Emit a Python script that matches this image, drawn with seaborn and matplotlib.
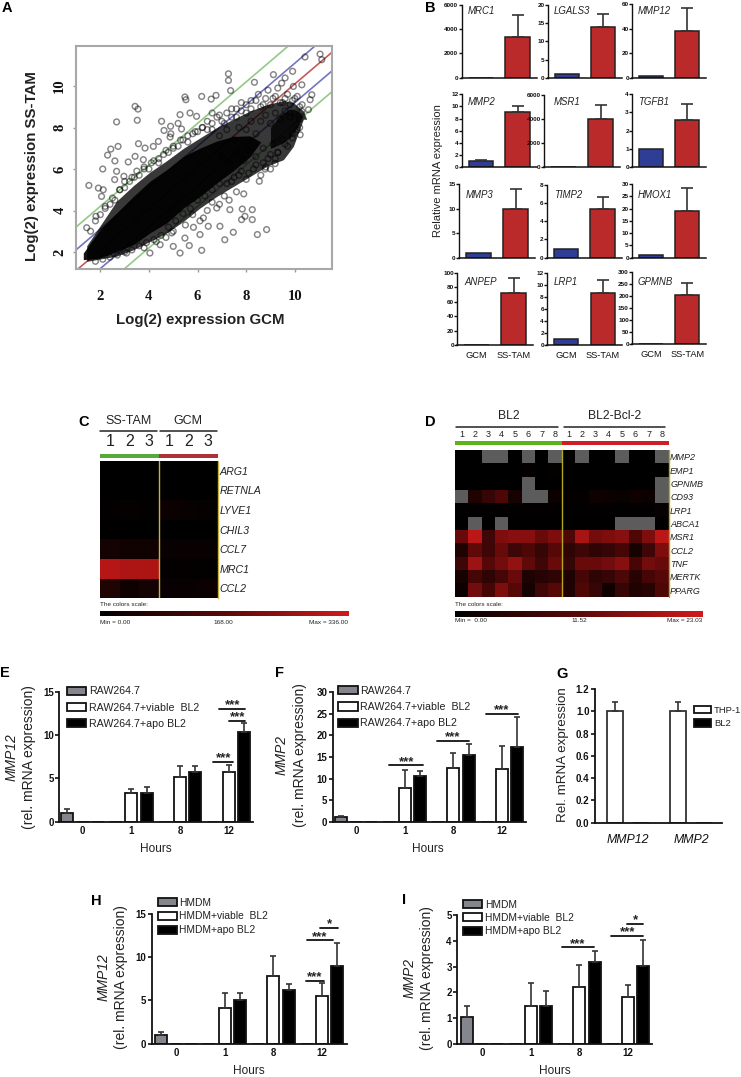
import numpy as np
import pandas as pd
import matplotlib
matplotlib.use('Agg')
import matplotlib.pyplot as plt
import seaborn as sns
from matplotlib.colors import LinearSegmentedColormap
from matplotlib.lines import Line2D
from matplotlib.patches import Patch, Rectangle

sns.set_theme(style='white')
plt.rcParams['font.family'] = ['Liberation Sans', 'DejaVu Sans']
plt.rcParams['text.color'] = '#222222'

W, H = 741, 1077

# panel A: sparse points, in log2 units
a_x = [1.53, 1.44, 2.67, 3.43, 3.55, 3.52, 2.43, 2.73, 2.30, 2.60, 2.10, 4.52, 5.48, 5.52, 6.17, 6.56, 6.76,
       7.27, 7.27, 7.36, 8.34, 9.12, 9.91, 10.42, 11.04, 11.11, 9.46, 9.60, 9.94, 10.29, 10.70, 10.63, 10.29,
       10.56, 10.22, 9.19, 8.78, 8.54, 8.84, 8.46, 7.47, 7.12, 8.25, 7.95, 7.81, 8.25, 7.84, 7.33, 6.79, 6.17,
       5.28, 5.00, 5.66, 5.48, 6.10, 6.24, 6.44, 6.92, 4.04, 3.08, 4.46, 4.94, 5.83,
       5.28, 5.69, 5.96, 4.89, 4.62, 5.34, 4.87, 4.39, 3.57, 3.84, 4.18, 3.43, 3.15, 3.77, 2.67, 2.97, 1.92, 2.12,
       2.05, 2.59, 1.82,
       6.9, 7.1, 7.4, 7.6, 7.8, 8.0, 8.2, 8.5, 8.7, 8.9, 9.1, 9.3, 9.5, 9.7, 9.9, 10.1, 10.3,
       6.6, 6.9, 7.2, 7.5, 7.7, 8.0, 8.2, 8.4, 8.6, 8.8, 9.0, 9.2, 9.4, 9.6, 9.8, 10.0, 10.2,
       7.0, 7.3, 7.6, 7.9, 8.1, 8.4, 8.7, 8.9, 9.1, 9.3, 9.5, 9.7, 9.9, 10.1,
       7.4, 7.7, 8.0, 8.3, 8.6, 8.8, 9.0, 9.2,
       5.5, 5.8, 6.1, 6.4, 6.6, 6.9, 7.1, 7.3, 7.6, 7.9, 5.0, 4.7, 4.3, 3.8,
       2.2, 2.5, 2.8, 3.0, 3.3, 3.5, 3.8, 4.1, 4.4, 4.7, 5.0, 5.3, 5.6, 5.9, 6.2, 6.4, 6.6, 4.9, 5.2,
       1.6, 1.8, 2.0, 2.2, 2.4, 2.6, 2.8, 3.0, 3.2, 3.4, 3.6, 3.8, 4.0, 4.2, 4.4, 4.6, 4.8, 5.0, 5.2, 5.4, 5.6,
       5.8, 6.0, 6.2, 6.4, 6.6, 6.8, 7.0, 7.2, 7.4, 7.6, 7.8, 8.0, 8.2, 8.4, 8.6, 8.8, 9.0, 9.2, 9.4, 9.6, 9.8,
       10.0, 10.2,
       1.8, 2.1, 2.4, 2.7, 3.0, 3.3, 3.6, 3.9, 4.2, 4.5, 4.8, 5.1, 5.4, 5.7, 6.0, 6.3, 6.6, 6.9, 7.2, 7.5, 7.8,
       8.1, 8.4, 8.7, 9.0, 9.3, 9.6, 9.9, 10.2]
a_y = [5.21, 3.17, 8.27, 9.02, 8.89, 8.35, 6.96, 7.09, 6.67, 6.39, 6.00, 8.30, 9.47, 9.34, 9.50, 9.37, 9.55,
       10.59, 10.27, 9.78, 10.18, 10.55, 10.71, 11.40, 11.54, 11.27, 10.14, 10.39, 9.98, 10.06, 9.58, 9.34, 8.78,
       8.86, 7.65, 6.26, 6.00, 5.41, 3.08, 2.84, 2.95, 2.59, 3.56, 3.72, 3.56, 4.04, 4.07, 4.04, 4.12, 2.08,
       1.95, 2.27, 2.31, 2.67, 2.84, 3.64, 3.24, 3.24, 1.95, 1.95, 2.35, 2.92, 3.19,
       8.62, 8.70, 8.54, 8.06, 7.86, 7.93, 7.54, 7.33, 7.22, 7.01, 7.09, 6.61, 6.34, 6.45, 5.89, 5.65, 5.08, 5.00,
       4.68, 5.49, 3.72,
       8.6, 8.2, 8.9, 8.5, 9.2, 8.7, 9.3, 9.6, 9.1, 9.8, 9.4, 9.9, 9.2, 9.6, 9.3, 9.5, 9.1,
       7.9, 7.6, 7.9, 7.4, 8.0, 7.9, 8.3, 7.7, 8.3, 8.6, 8.2, 8.7, 8.4, 8.8, 8.5, 8.7, 8.4,
       6.6, 6.3, 6.7, 6.4, 6.9, 6.6, 7.0, 6.5, 7.2, 6.8, 7.4, 7.1, 7.7, 7.9,
       5.4, 5.7, 5.5, 6.0, 5.7, 6.1, 6.0, 6.5,
       3.3, 3.8, 3.5, 4.0, 4.4, 4.3, 4.7, 4.5, 4.9, 4.8, 3.0, 2.7, 2.5, 2.2,
       4.2, 4.6, 5.0, 5.4, 5.6, 5.9, 6.1, 6.3, 6.5, 6.9, 7.1, 7.4, 7.6, 7.8, 8.0, 8.3, 8.7, 7.7, 8.2,
       3.0, 3.5, 3.8, 4.1, 4.3, 4.5, 5.0, 5.1, 5.4, 5.6, 5.7, 6.0, 6.0, 6.4, 6.3, 6.7, 6.8, 7.0, 7.1, 7.4, 7.3,
       7.7, 7.8, 8.0, 7.9, 8.2, 8.5, 8.3, 8.7, 8.5, 8.9, 8.8, 9.1, 8.9, 9.3, 9.0, 9.4, 9.1, 9.5, 9.2, 9.4, 9.1,
       9.4, 9.0,
       1.55, 1.65, 1.75, 1.85, 2.0, 2.1, 2.3, 2.45, 2.6, 2.8, 3.2, 3.5, 3.85, 4.1, 4.5, 4.7, 5.0, 5.3, 5.3, 5.6, 5.9,
       5.8, 6.2, 6.3, 6.7, 6.8, 7.2, 7.5, 8.0]

# dense part of the cloud, read as outlines
core_x = [1.30, 1.99, 2.67, 3.36, 4.04, 4.73, 5.42, 6.10, 6.79, 7.47, 8.16, 8.60]
core_hi = [1.95, 3.08, 3.88, 4.68, 5.41, 5.97, 6.61, 7.01, 7.35, 7.57, 7.60, 7.30]
core_lo = [1.63, 1.71, 2.03, 2.35, 2.92, 3.40, 4.12, 4.68, 5.33, 5.91, 6.60, 7.30]
halo_x = [1.44, 2.67, 3.36, 4.04, 4.73, 5.42, 6.10, 6.79, 7.47, 8.16, 8.84, 9.53, 9.94, 10.35, 10.49]
halo_hi = [2.30, 4.45, 5.20, 5.85, 6.40, 7.00, 7.50, 8.00, 8.40, 8.80, 9.10, 9.30, 9.20, 8.80, 8.40]
halo_lo = [1.55, 1.80, 2.11, 2.51, 2.92, 3.48, 4.12, 4.68, 5.16, 5.64, 6.13, 6.45, 7.09, 8.40, 8.40]
tip_x = [9.0, 9.4, 9.8, 10.1, 10.3]
tip_hi = [8.0, 8.6, 8.9, 8.8, 8.6]
tip_lo = [7.0, 7.2, 7.5, 8.0, 8.5]
a_offsets = [-1.8, -0.8, 0.1, 1.1, 2.2]
a_colors = ['#93c987', '#7474c4', '#c45a5a', '#7474c4', '#93c987']

# panel B
b_genes = ['MRC1', 'LGALS3', 'MMP12', 'MMP2', 'MSR1', 'TGFB1', 'MMP3', 'TIMP2', 'HMOX1', 'ANPEP', 'LRP1', 'GPMNB']
b_gcm = [1, 1, 1, 1, 1, 1, 1, 1, 1.1, 1, 1, 1]
b_tam = [3350, 14, 38, 9, 4000, 2.6, 9.9, 5.3, 19.2, 72, 8.7, 203]
b_tam_top = [5200, 17.6, 57, 10.1, 5150, 3.45, 14, 6.7, 28.3, 93, 10.8, 252]
b_ymax = [6000, 20, 60, 12, 6000, 4, 15, 8, 30, 100, 12, 300]
b_ticks = [[0, 2000, 4000, 6000], [0, 5, 10, 15, 20], [0, 20, 40, 60], [0, 2, 4, 6, 8, 10, 12],
           [0, 2000, 4000, 6000], [0, 1, 2, 3, 4], [0, 5, 10, 15], [0, 2, 4, 6, 8],
           [0, 5, 10, 15, 20, 25, 30], [0, 20, 40, 60, 80, 100], [0, 2, 4, 6, 8, 10, 12],
           [0, 50, 100, 150, 200, 250, 300]]
b_groups = ['GCM', 'SS-TAM']

# panel C
c_genes = ['ARG1', 'RETNLA', 'LYVE1', 'CHIL3', 'CCL7', 'MRC1', 'CCL2']
c_values = [[3, 3, 3, 3, 3, 3],
            [3, 3, 3, 3, 3, 3],
            [5, 12, 6, 22, 14, 12],
            [3, 3, 3, 3, 3, 3],
            [40, 32, 32, 15, 18, 14],
            [300, 285, 285, 8, 6, 6],
            [60, 30, 40, 18, 15, 20]]
c_samples = ['1', '2', '3', '1', '2', '3']

# panel D, nan cells are the grey ones
n = np.nan
d_genes = ['MMP2', 'EMP1', 'GPNMB', 'CD93', 'LRP1', 'ABCA1', 'MSR1', 'CCL2', 'TNF', 'MERTK', 'PPARG']
d_values = [[.2, .2, n, n, .2, n, .2, n, .2, n, .2, .2, n, .2, .2, n],
            [.2, .2, .2, .2, .2, .5, .2, .4, .2, .2, .2, .2, .2, .2, .2, .2],
            [.2, .2, .2, .2, .2, n, .2, .2, .2, .2, .2, .2, .2, .2, .2, n],
            [n, 4, 7, 10, 3, n, n, 1.5, .5, .6, 2, 1.5, 1, 2, 1.5, n],
            [.3, .3, .3, .3, .3, .3, .3, .3, .3, .3, .3, .3, .3, .3, .3, 1],
            [.2, n, .2, n, .2, .2, .2, .2, .2, .2, .2, .2, n, n, n, .2],
            [13, 21, 8, 15, 16, 16, 13, 15, 10, 19, 14, 15, 16, 10, 15, 21],
            [4, 12, 8, 13, 8, 10, 7, 11, 6, 8, 6, 7, 9, 3, 8, 15],
            [8, 18, 11, 14, 17, 12, 8, 13, 7, 13, 13, 14, 16, 9, 14, 13],
            [3, 9, 6, 9, 13, 4, 5, 6, 4, 9, 6, 7, 10, 5, 9, 11],
            [1.5, 14, 9, 15, 11, 3, 8, 11, 4, 10, 7, 2, 7, 4, 5, 10]]
d_samples = ['1', '2', '3', '4', '5', '6', '7', '8'] * 2

# panels E F H I: value and top of the error bar per hour
hours = ['0', '1', '8', '12']
e_ctrl, e_ctrl_top = [1.0, 0, 0, 0], [1.45, 0, 0, 0]
e_viable, e_viable_top = [0, 3.3, 5.2, 5.7], [0, 3.8, 6.4, 6.5]
e_apo, e_apo_top = [0, 3.35, 5.7, 10.4], [0, 4.0, 6.4, 11.4]
f_ctrl, f_ctrl_top = [1.0, 0, 0, 0], [1.4, 0, 0, 0]
f_viable, f_viable_top = [0, 7.7, 12.4, 12.3], [0, 12.1, 16.0, 17.6]
f_apo, f_apo_top = [0, 10.6, 15.5, 17.4], [0, 11.7, 17.9, 24.2]
h_ctrl, h_ctrl_top = [1.0, 0, 0, 0], [1.4, 0, 0, 0]
h_viable, h_viable_top = [0, 4.1, 7.8, 5.5], [0, 5.9, 10.2, 7.0]
h_apo, h_apo_top = [0, 5.1, 6.2, 9.0], [0, 5.9, 6.9, 11.6]
i_ctrl, i_ctrl_top = [1.03, 0, 0, 0], [1.47, 0, 0, 0]
i_viable, i_viable_top = [0, 1.47, 2.2, 1.8], [0, 2.35, 3.07, 2.3]
i_apo, i_apo_top = [0, 1.47, 3.2, 3.03], [0, 2.05, 3.6, 4.02]

# panel G
g_genes = ['MMP12', 'MMP2']
g_thp1, g_thp1_top = [1.0, 1.0], [1.085, 1.085]
g_bl2 = [0, 0]

fig = plt.figure(figsize=(W / 100, H / 100), dpi=100)
red_cmap = LinearSegmentedColormap.from_list('blackred', ['#000000', '#5a0808', '#d01a1a'])


def ax_px(l, t, r, b):
    return fig.add_axes([l / W, 1 - b / H, (r - l) / W, (b - t) / H])


def txt(x, y, s, **kw):
    kw.setdefault('ha', 'left')
    kw.setdefault('va', 'center')
    return fig.text(x / W, 1 - y / H, s, **kw)


def line_px(x0, x1, y, color='#222222', lw=1.1):
    fig.add_artist(Line2D([x0 / W, x1 / W], [1 - y / H, 1 - y / H], color=color, lw=lw, transform=fig.transFigure))


def rect_px(x0, x1, y0, y1, color):
    fig.add_artist(Rectangle((x0 / W, 1 - y1 / H), (x1 - x0) / W, (y1 - y0) / H, color=color, lw=0,
                             transform=fig.transFigure))


def stat(x0, x1, y, label='***', cx=None):
    line_px(x0, x1, y, color='#111111', lw=1.3)
    txt((x0 + x1) / 2 if cx is None else cx, y - 3.5, label, ha='center', fontsize=9.5, fontweight='bold')


def add_errors(ax, bars, tops, capsize):
    xs = [p.get_x() + p.get_width() / 2 for p in bars]
    hs = [p.get_height() for p in bars]
    up = [max(t - v, 0) for t, v in zip(tops, hs)]
    keep = [i for i, u in enumerate(up) if u > 0]
    ax.errorbar([xs[i] for i in keep], [hs[i] for i in keep], yerr=[[0] * len(keep), [up[i] for i in keep]],
                fmt='none', ecolor='#333333', elinewidth=1.2, capsize=capsize, capthick=1.2, zorder=1)


def style_axis(ax, size=7):
    sns.despine(ax=ax)
    ax.spines['left'].set_linewidth(1.3)
    ax.spines['bottom'].set_linewidth(1.3)
    ax.spines['left'].set_color('#111111')
    ax.spines['bottom'].set_color('#111111')
    ax.tick_params(axis='y', left=True, length=3, width=1.2, pad=1, labelsize=size, colors='#111111')
    ax.tick_params(axis='x', length=0, pad=3, labelsize=size, colors='#111111')
    for t in ax.get_xticklabels() + ax.get_yticklabels():
        t.set_fontweight('bold')
    ax.set_xlabel('')
    ax.set_ylabel('')


def time_panel(box, x0, ymax, yticks, values, tops, labels, legend_at, font=7.7):
    l, t, r, b = box
    ax = ax_px(l, t, r, b)
    df = pd.DataFrame({'hour': hours * 3,
                       'group': [labels[0]] * 4 + [labels[1]] * 4 + [labels[2]] * 4,
                       'value': values[0] + values[1] + values[2]})
    sns.barplot(data=df, x='hour', y='value', hue='group', hue_order=labels, order=hours,
                palette=['#85858d', '#ffffff', '#000000'], saturation=1, width=0.94, gap=0.22,
                edgecolor='#111111', linewidth=1.3, legend=False, ax=ax)
    for bars, top in zip(ax.containers, tops):
        add_errors(ax, bars, top, 2.5)
    step = 48.7
    ax.set_xlim((l - x0) / step, (r - x0) / step)
    ax.set_ylim(0, ymax)
    ax.set_yticks(yticks)
    style_axis(ax)
    handles = [Patch(facecolor=c, edgecolor='#111111', linewidth=1.3, label=s)
               for c, s in zip(['#85858d', '#ffffff', '#000000'], labels)]
    fig.legend(handles=handles, loc='upper left', bbox_to_anchor=(legend_at[0] / W, 1 - legend_at[1] / H),
               frameon=False, fontsize=font, handlelength=1.85, handleheight=0.8, handletextpad=0.25,
               labelspacing=legend_at[2], borderpad=0, borderaxespad=0)
    return ax


# A
ax = ax_px(76, 46, 332, 269)
for off, col in zip(a_offsets, a_colors):
    ax.axline((1, 1 + off), slope=1, color=col, lw=1.2, zorder=1)
ax.fill_between(halo_x, halo_lo, halo_hi, color='#000000', alpha=0.78, lw=0, zorder=2)
ax.fill_between(core_x, core_lo, core_hi, color='#000000', alpha=0.92, lw=0, zorder=3)
ax.fill_between(tip_x, tip_lo, tip_hi, color='#000000', alpha=0.8, lw=0, zorder=3)
sns.scatterplot(x=a_x, y=a_y, s=17, facecolor='none', edgecolor='#000000', linewidth=1.05, alpha=0.48, ax=ax, zorder=4)
ax.set_xlim(1.0, 11.53)
ax.set_ylim(1.18, 11.93)
ax.set_xticks([2, 4, 6, 8, 10])
ax.set_yticks([2, 4, 6, 8, 10])
ax.tick_params(axis='x', bottom=True, length=2, width=1, color='#999999', pad=13)
ax.tick_params(axis='y', left=True, length=2, width=1, color='#999999', pad=5)
for t in ax.get_xticklabels():
    t.set(family='Liberation Serif', fontweight='bold', fontsize=10.5, color='#111111')
for t in ax.get_yticklabels():
    t.set(family='Liberation Serif', fontweight='bold', fontsize=10.5, color='#111111', rotation=90, va='center')
for s in ax.spines.values():
    s.set_color('#a8a8a8')
    s.set_linewidth(1.5)
txt(200, 320, 'Log(2) expression GCM', ha='center', fontsize=10.8, fontweight='bold')
txt(32, 166, 'Log(2) expression SS-TAM', ha='center', rotation=90, fontsize=10.8, fontweight='bold')

# B
b_boxes = [(461.7, 5, 536.7, 77.7), (548, 5, 621.7, 77.7), (632.3, 4, 706, 77.7),
           (461.7, 94.3, 536.7, 167), (544, 94.7, 620, 167), (632.3, 94.3, 706, 167),
           (459, 184, 535, 257.7), (546.7, 184.7, 621.7, 257.7), (632.3, 184, 706, 257.7),
           (457.3, 272.7, 533, 345.3), (547.3, 272.7, 621.7, 345.3), (632.3, 271.7, 706, 344)]
b_labels = [(468, 11), (554, 11), (637.7, 11), (468, 101.7), (554, 101.7), (637.7, 101.7),
            (465.7, 195), (554, 195), (637.7, 195), (464.3, 281.7), (554, 281.7), (637.7, 281.7)]
for i, gene in enumerate(b_genes):
    ax = ax_px(*b_boxes[i])
    sns.barplot(x=b_groups, y=[b_gcm[i], b_tam[i]], hue=b_groups, palette=['#2f3d96', '#bb2a2a'], saturation=1,
                width=0.67, edgecolor='#222222', linewidth=1.1, legend=False, ax=ax)
    bars = [c[0] for c in ax.containers]
    add_errors(ax, bars, [b_gcm[i] * (1.2 if gene == 'MMP2' else 1), b_tam_top[i]], 4.5)
    ax.set_xlim(-0.52, 1.52)
    ax.set_ylim(0, b_ymax[i])
    ax.set_yticks(b_ticks[i])
    style_axis(ax, size=4.6)
    ax.tick_params(axis='y', length=2, width=1, pad=0.5)
    ax.spines['left'].set_linewidth(1)
    ax.spines['bottom'].set_linewidth(1.1)
    if i < 9:
        ax.set_xticks([])
    else:
        ax.tick_params(axis='x', labelsize=6.7, pad=4)
        for t in ax.get_xticklabels():
            t.set_fontweight('normal')
    txt(b_labels[i][0], b_labels[i][1], gene, fontsize=6.9, style='italic')
txt(438, 171, 'Relative mRNA expression', ha='center', rotation=90, fontsize=8)

# C
ax = ax_px(100, 461, 218, 598.3)
cax = ax_px(100, 611, 348.7, 616)
sns.heatmap(pd.DataFrame(c_values, index=c_genes), vmin=0, vmax=336, cmap=red_cmap, ax=ax, cbar_ax=cax,
            cbar_kws={'orientation': 'horizontal'}, xticklabels=c_samples, yticklabels=c_genes)
ax.xaxis.tick_top()
ax.yaxis.tick_right()
ax.tick_params(axis='x', length=0, pad=8.5, labelsize=11.5, rotation=0, colors='#222222')
ax.tick_params(axis='y', length=0, pad=1, labelsize=7.7, rotation=0, colors='#222222')
for t in ax.get_yticklabels():
    t.set_style('italic')
ax.axvline(3, color='#c8b43c', lw=1)
ax.axvline(6, color='#c8b43c', lw=1, clip_on=False)
cax.set_xticks([])
ax.collections[0].colorbar.outline.set_visible(False)
rect_px(100, 159.3, 454, 458, '#5aa83a')
rect_px(159.3, 218, 454, 458, '#b0303a')
line_px(100, 156.5, 430.7)
line_px(160, 216.7, 430.7)
txt(128.5, 421, 'SS-TAM', ha='center', fontsize=9)
txt(188, 421, 'GCM', ha='center', fontsize=9)
txt(100, 605, 'The colors scale:', fontsize=4.6)
txt(100, 622.7, 'Min = 0.00', fontsize=4.6)
txt(223, 622.7, '168.00', ha='center', fontsize=4.6)
txt(348, 622.7, 'Max = 336.00', ha='right', fontsize=4.6)

# D
ax = ax_px(455, 450, 668.7, 596.7)
cax = ax_px(455, 611, 702.7, 616.7)
sns.heatmap(pd.DataFrame(d_values, index=d_genes), vmin=0, vmax=23.03, cmap=red_cmap, ax=ax, cbar_ax=cax,
            cbar_kws={'orientation': 'horizontal'}, xticklabels=d_samples, yticklabels=d_genes)
ax.set_facecolor('#5c5c5c')
ax.xaxis.tick_top()
ax.yaxis.tick_right()
ax.tick_params(axis='x', length=0, pad=8, labelsize=6.5, rotation=0, colors='#222222')
ax.tick_params(axis='y', length=0, pad=1, labelsize=6.5, rotation=0, colors='#222222')
for t in ax.get_yticklabels():
    t.set_style('italic')
ax.axvline(8, color='#b4a820', lw=1)
ax.axvline(16, color='#b4a820', lw=1, clip_on=False)
cax.set_xticks([])
ax.collections[0].colorbar.outline.set_visible(False)
rect_px(455, 561.7, 440.7, 445.3, '#5cb31a')
rect_px(561.7, 668.7, 440.7, 445.3, '#cc1f26')
line_px(456, 557.7, 427.3)
line_px(564.3, 665, 427.3)
txt(509.3, 415.7, 'BL2', ha='center', fontsize=8.7)
txt(615, 415.7, 'BL2-Bcl-2', ha='center', fontsize=8.7)
txt(455, 605, 'The colors scale:', fontsize=4.6)
txt(455, 620.7, 'Min =  0.00', fontsize=4.6)
txt(579, 620.7, '11.52', ha='center', fontsize=4.6)
txt(702.7, 620.7, 'Max = 23.03', ha='right', fontsize=4.6)

# E
raw = ['RAW264.7', 'RAW264.7+viable  BL2', 'RAW264.7+apo BL2']
hm = ['HMDM', 'HMDM+viable  BL2', 'HMDM+apo BL2']
time_panel((59.3, 691.7, 253.3, 821.7), 82.7, 15, [0, 5, 10, 15], [e_ctrl, e_viable, e_apo],
           [e_ctrl_top, e_viable_top, e_apo_top], raw, (66.7, 686.5, 0.58))
stat(213.3, 233.3, 761.5)
stat(219.3, 245, 709, cx=232.7)
stat(229.3, 245, 721, cx=237.5)
txt(11.7, 756.7, 'MMP12', ha='center', rotation=90, fontsize=10, style='italic')
txt(29, 756.7, '(rel. mRNA expression)', ha='center', rotation=90, fontsize=10)
txt(155.7, 849, 'Hours', ha='center', fontsize=8.6)

# F
time_panel((332.7, 692.3, 526, 821.7), 356, 30, [0, 5, 10, 15, 20, 25, 30], [f_ctrl, f_viable, f_apo],
           [f_ctrl_top, f_viable_top, f_apo_top], raw, (338, 686, 0.58))
stat(389, 423.3, 765.3)
stat(436.7, 469, 740.7)
stat(485.7, 517.7, 713.7)
txt(281.7, 755, 'MMP2', ha='center', rotation=90, fontsize=10, style='italic')
txt(300, 755, '(rel. mRNA expression)', ha='center', rotation=90, fontsize=10)
txt(428.3, 849, 'Hours', ha='center', fontsize=8.6)

# G
ax = ax_px(595, 689, 721.7, 822.7)
df = pd.DataFrame({'gene': g_genes * 2, 'group': ['THP-1'] * 2 + ['BL2'] * 2, 'value': g_thp1 + g_bl2})
sns.barplot(data=df, x='gene', y='value', hue='group', palette=['#ffffff', '#000000'], saturation=1,
            width=0.82, gap=0.38, edgecolor='#333333', linewidth=1.3, legend=False, ax=ax)
add_errors(ax, ax.containers[0], g_thp1_top, 2.5)
ax.set_xlim(-0.517, 1.485)
ax.set_ylim(0, 1.2)
ax.set_yticks([0, 0.2, 0.4, 0.6, 0.8, 1.0, 1.2])
style_axis(ax)
ax.tick_params(axis='x', labelsize=8.9, pad=8)
for t in ax.get_xticklabels():
    t.set(fontweight='normal', style='italic')
fig.legend(handles=[Patch(facecolor='#ffffff', edgecolor='#111111', linewidth=1.3, label='THP-1'),
                    Patch(facecolor='#000000', edgecolor='#111111', linewidth=1.3, label='BL2')],
           loc='upper left', bbox_to_anchor=(694 / W, 1 - 705.5 / H), frameon=False, fontsize=6.8,
           handlelength=1.85, handleheight=0.85, handletextpad=0.25, labelspacing=0.5, borderpad=0, borderaxespad=0)
txt(563.3, 755, 'Rel. mRNA expression', ha='center', rotation=90, fontsize=9.6)

# H
time_panel((151.7, 914, 347.3, 1043.7), 176, 15, [0, 5, 10, 15], [h_ctrl, h_viable, h_apo],
           [h_ctrl_top, h_viable_top, h_apo_top], hm, (157.7, 897.5, 0.38), font=7.4)
stat(306, 324, 980.7)
stat(306.7, 332.7, 940.3)
stat(320, 338.3, 927.7, '*')
txt(103.3, 976.7, 'MMP12', ha='center', rotation=90, fontsize=10, style='italic')
txt(121, 976.7, '(rel. mRNA expression)', ha='center', rotation=90, fontsize=10)
txt(249.3, 1071, 'Hours', ha='center', fontsize=8.6)

# I
time_panel((457.3, 915.3, 651.7, 1043.7), 482, 5, [0, 1, 2, 3, 4, 5], [i_ctrl, i_viable, i_apo],
           [i_ctrl_top, i_viable_top, i_apo_top], hm, (463.3, 899.5, 0.34), font=7.4)
stat(561.7, 594.3, 947.3)
stat(611, 643.3, 936)
stat(626.7, 643.3, 923.7, '*')
txt(410, 978, 'MMP2', ha='center', rotation=90, fontsize=10, style='italic')
txt(426.7, 978, '(rel. mRNA expression)', ha='center', rotation=90, fontsize=10)
txt(555, 1071, 'Hours', ha='center', fontsize=8.6)

# panel letters
for s, x, y in [('A', 2, 8), ('B', 425, 8), ('C', 78, 422), ('D', 425, 422), ('E', 0, 673), ('F', 275, 673),
                ('G', 556.7, 674), ('H', 90.7, 901), ('I', 402, 900)]:
    txt(x, y, s, fontsize=10.5, fontweight='bold', color='#000000')

fig.savefig('out.png', dpi=100)
